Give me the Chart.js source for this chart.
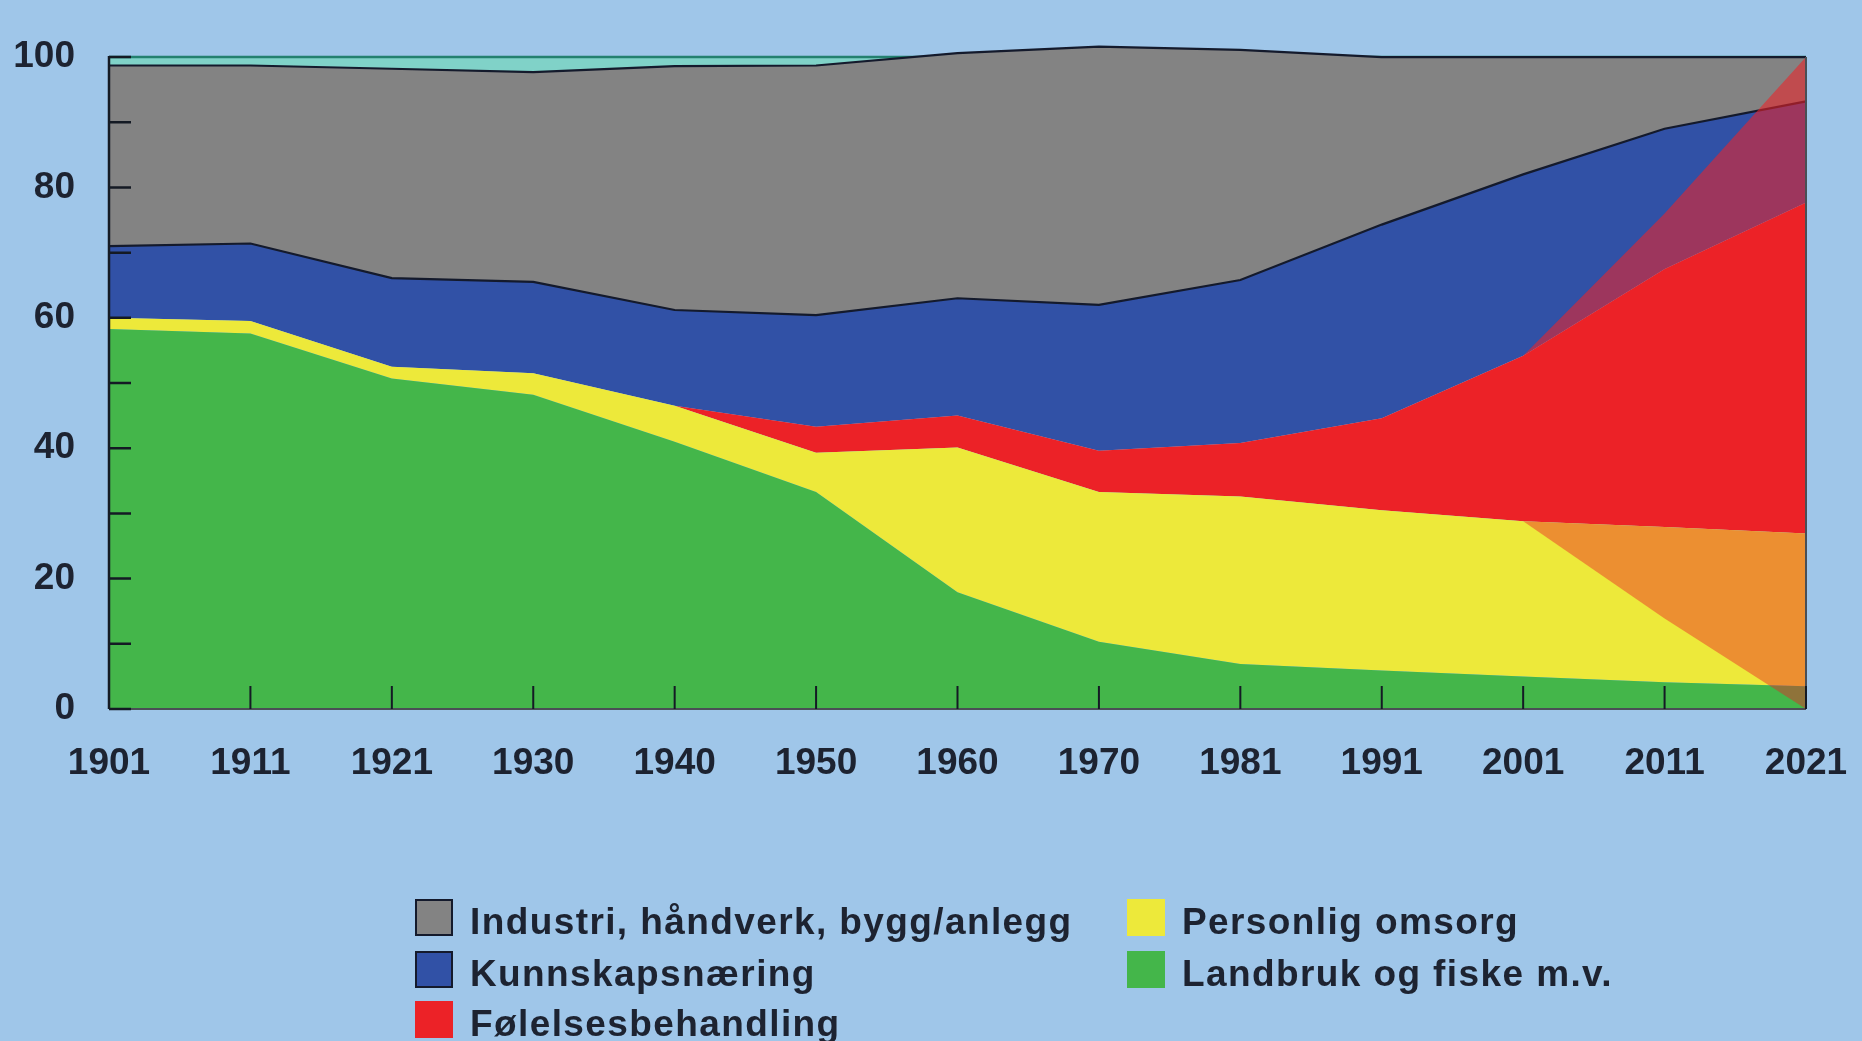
<!DOCTYPE html>
<html>
<head>
<meta charset="utf-8">
<script src="https://cdn.jsdelivr.net/npm/chart.js@4.4.8/dist/chart.umd.min.js"></script>
<style>
  html, body { margin: 0; padding: 0; background: #9fc6e9; overflow: hidden; }
  #wrap { position: relative; width: 1862px; height: 1041px; }
  #chart { position: absolute; left: 0; top: 0; }
  .item {
    position: absolute; display: flex; align-items: center; white-space: nowrap;
    font-family: "Liberation Sans", Arial, sans-serif; font-weight: bold;
    font-size: 37px; letter-spacing: 1.4px; color: #1d2331;
  }
  .item span.txt { position: relative; top: 5px; }
  .box { width: 38px; height: 37px; margin-right: 17px; box-sizing: border-box; }
</style>
</head>
<body>
<div id="wrap">
  <canvas id="chart" width="1862" height="1041"></canvas>
  <div id="legend"></div>
</div>
<script>
const years = ["1901", "1911", "1921", "1930", "1940", "1950", "1960", "1970", "1981", "1991", "2001", "2011", "2021"];

// andel sysselsatte (prosent), stablet nedenfra
const landbruk = [58.3, 57.6, 50.7, 48.2, 41.0, 33.3, 17.9, 10.3, 6.9, 5.9, 5.0, 4.1, 3.5];
const omsorg = [1.7, 1.9, 1.8, 3.3, 5.5, 6.0, 22.2, 23.0, 25.7, 24.6, 23.8, 23.8, 23.4];
const folelse = [0, 0, 0, 0, 0, 4.0, 4.9, 6.3, 8.2, 14.1, 25.4, 39.6, 50.8];
const kunnskap = [11.0, 11.9, 13.6, 14.0, 14.7, 17.1, 18.0, 22.4, 25.0, 29.7, 27.8, 21.5, 15.5];
const industri = [27.7, 27.3, 32.1, 32.2, 37.4, 38.3, 37.6, 39.6, 35.3, 25.7, 18.0, 11.0, 6.8];

// 100-linja øverst
const hundre = [100, 100, 100, 100, 100, 100, 100, 100, 100, 100, 100, 100, 100];

// skraverte felt etter 2001 (nivåer, ikke stablet)
const omsorgSkyggeTopp = [null, null, null, null, null, null, null, null, null, null, 28.8, 27.9, 26.9];
const omsorgSkyggeBunn = [null, null, null, null, null, null, null, null, null, null, 28.8, 13.9, 0];
const folelseSkyggeBunn = [null, null, null, null, null, null, null, null, null, null, 54.2, 67.5, 77.7];
const folelseSkyggeTopp = [null, null, null, null, null, null, null, null, null, null, 54.2, 76.0, 100];

const yLabels = [0, 20, 40, 60, 80, 100];
const yMarks = [0, 10, 20, 30, 40, 50, 60, 70, 80, 90, 100];

const axisFont = { family: "'Liberation Sans', Arial, sans-serif", size: 37, weight: "bold" };
const inkColor = "#1d2331";

function area(label, data, color, fill, border) {
  return {
    label: label,
    data: data,
    backgroundColor: color,
    borderColor: border || "transparent",
    borderWidth: border ? 2.2 : 0,
    fill: fill,
    stack: "hoved",
    pointRadius: 0,
    tension: 0
  };
}

function shade(data, stack, fill, color) {
  return {
    label: "",
    data: data,
    backgroundColor: color,
    borderWidth: 0,
    borderColor: "transparent",
    fill: fill,
    stack: stack,
    order: -1,
    pointRadius: 0,
    tension: 0
  };
}

// labels may hang outside the plot, the layout padding handles it
function noLabelPadding(scale) {
  scale.paddingLeft = 0;
  scale.paddingRight = 0;
  scale.paddingTop = 0;
  scale.paddingBottom = 0;
}

const axisMarks = {
  id: "axisMarks",
  afterDatasetsDraw(chart) {
    const { ctx, chartArea: a, scales: { x, y } } = chart;
    const y0 = y.getPixelForValue(0);
    const y100 = y.getPixelForValue(100);
    ctx.save();
    ctx.lineCap = "butt";

    ctx.strokeStyle = "#4a4f55";
    ctx.lineWidth = 2;
    ctx.beginPath();
    ctx.moveTo(a.left, y0);
    ctx.lineTo(a.right, y0);
    ctx.moveTo(a.right, y100);
    ctx.lineTo(a.right, y0);
    ctx.stroke();

    ctx.strokeStyle = "#141a24";
    ctx.lineWidth = 2.5;
    ctx.beginPath();
    ctx.moveTo(a.left, y100 - 1);
    ctx.lineTo(a.left, y0);
    yMarks.forEach(v => {
      const py = y.getPixelForValue(v);
      ctx.moveTo(a.left, py);
      ctx.lineTo(a.left + 22, py);
    });
    ctx.stroke();

    ctx.lineWidth = 2;
    ctx.beginPath();
    years.forEach((_, i) => {
      const px = x.getPixelForValue(i);
      ctx.moveTo(px, y0);
      ctx.lineTo(px, y0 - 23);
    });
    ctx.stroke();
    ctx.restore();
  }
};

const datasets = [
  area("Landbruk og fiske m.v.", landbruk, "#44b64a", "origin"),
  area("Personlig omsorg", omsorg, "#ede93a", "-1"),
  area("Følelsesbehandling", folelse, "#ec2227", "-1"),
  area("Kunnskapsnæring", kunnskap, "#3151a6", "-1", "#141a2c"),
  area("Industri, håndverk, bygg/anlegg", industri, "#838383", "-1", "#141a2c"),
  {
    label: "",
    data: hundre,
    stack: "ramme",
    order: 10,
    borderColor: "#23806f",
    borderWidth: 2.5,
    backgroundColor: "#80d2c8",
    fill: { target: 4, above: "#80d2c8", below: "rgba(0,0,0,0)" },
    pointRadius: 0
  },
  shade(omsorgSkyggeTopp, "s1", false, "transparent"),
  shade(omsorgSkyggeBunn, "s2", "-1", "rgba(236, 34, 39, 0.45)"),
  shade(folelseSkyggeBunn, "s3", false, "transparent"),
  shade(folelseSkyggeTopp, "s4", "-1", "rgba(236, 34, 39, 0.58)")
];

new Chart(document.getElementById("chart"), {
  type: "line",
  data: { labels: years, datasets: datasets },
  options: {
    responsive: false,
    animation: false,
    devicePixelRatio: 1,
    layout: { padding: { left: 13, right: 56, top: 44, bottom: 255 } },
    plugins: {
      legend: { display: false },
      tooltip: { enabled: false }
    },
    scales: {
      x: {
        offset: false,
        grid: { display: false, drawTicks: false },
        border: { display: false },
        afterFit: scale => { noLabelPadding(scale); scale.height = 77; },
        ticks: { font: axisFont, color: inkColor, padding: 33, maxRotation: 0, autoSkip: false }
      },
      y: {
        stacked: true,
        min: 0,
        max: 102,
        grid: { display: false, drawTicks: false },
        border: { display: false },
        afterFit: scale => { noLabelPadding(scale); scale.width = 96; },
        afterBuildTicks: scale => { scale.ticks = yLabels.map(v => ({ value: v })); },
        ticks: { font: axisFont, color: inkColor, padding: 34 }
      }
    }
  },
  plugins: [axisMarks]
});

// forklaring i to kolonner
const legendColumns = [[4, 3, 2], [1, 0]];
const legendLeft = [415, 1127];
const legendTop = [896, 948, 998];
const legendEl = document.getElementById("legend");
legendColumns.forEach((col, c) => {
  col.forEach((idx, r) => {
    const ds = datasets[idx];
    const item = document.createElement("div");
    item.className = "item";
    item.style.left = legendLeft[c] + "px";
    item.style.top = legendTop[r] + "px";
    const box = document.createElement("span");
    box.className = "box";
    box.style.background = ds.backgroundColor;
    if (ds.borderWidth) box.style.border = "2px solid #141a2c";
    const txt = document.createElement("span");
    txt.className = "txt";
    txt.textContent = ds.label;
    item.appendChild(box);
    item.appendChild(txt);
    legendEl.appendChild(item);
  });
});
</script>
</body>
</html>
